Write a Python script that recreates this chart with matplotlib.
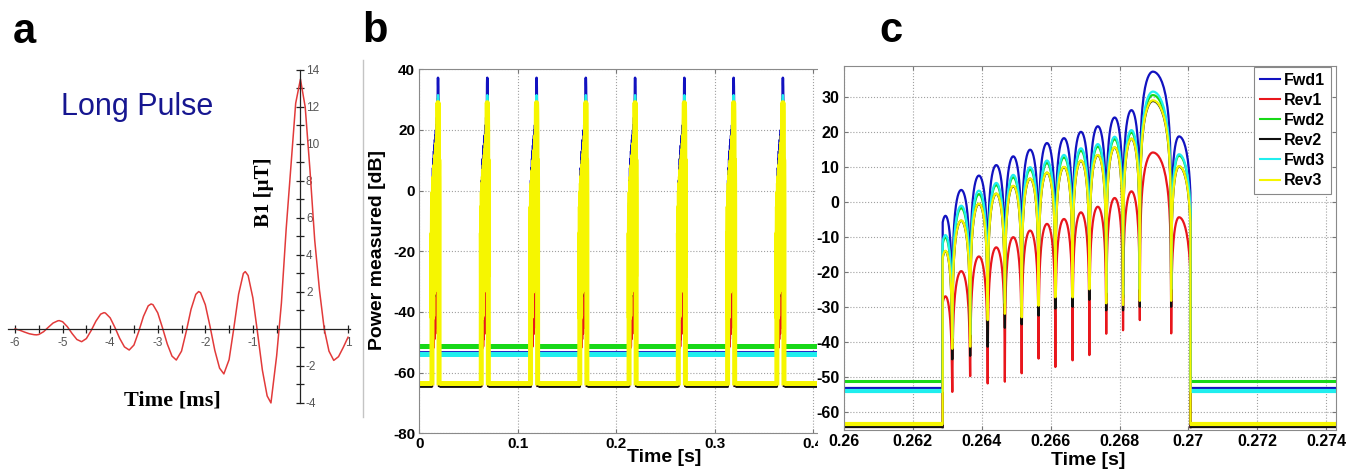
import numpy as np
import matplotlib
matplotlib.use("Agg")
import matplotlib.pyplot as plt
from matplotlib.lines import Line2D
from matplotlib.patches import Rectangle
from matplotlib.ticker import FixedLocator

# ---------------- Panel a data ----------------
a_time_ms = [-6.0, -5.9, -5.8, -5.7, -5.6, -5.55, -5.5, -5.4, -5.3, -5.2, -5.1, -5.07, -5.0,
             -4.9, -4.8, -4.7, -4.6, -4.5, -4.4, -4.3, -4.2, -4.13, -4.1, -4.0, -3.9, -3.8,
             -3.7, -3.6, -3.5, -3.4, -3.3, -3.2, -3.14, -3.1, -3.0, -2.9, -2.8, -2.7, -2.61,
             -2.5, -2.4, -2.3, -2.2, -2.14, -2.1, -2.0, -1.9, -1.8, -1.7, -1.61, -1.5, -1.4,
             -1.3, -1.2, -1.16, -1.1, -1.0, -0.9, -0.8, -0.7, -0.62, -0.5, -0.4, -0.3, -0.2,
             -0.1, 0.0, 0.1, 0.2, 0.3, 0.4, 0.5, 0.6, 0.7, 0.8, 0.9, 1.0]
a_b1_uT = [0.0, -0.07, -0.17, -0.26, -0.31, -0.32, -0.30, -0.15, 0.09, 0.32, 0.44, 0.45, 0.39,
           0.12, -0.25, -0.57, -0.69, -0.52, -0.09, 0.42, 0.80, 0.88, 0.86, 0.60, 0.08, -0.51,
           -0.97, -1.14, -0.87, -0.14, 0.68, 1.25, 1.35, 1.31, 0.87, 0.06, -0.81, -1.47, -1.68,
           -1.20, -0.13, 1.06, 1.87, 2.02, 1.96, 1.31, 0.13, -1.16, -2.12, -2.43, -1.66, 0.05,
           1.88, 3.00, 3.10, 2.89, 1.68, -0.24, -2.23, -3.62, -4.00, -1.45, 1.40, 5.40, 8.80,
           12.20, 13.50, 12.00, 8.60, 4.80, 2.10, 0.00, -1.20, -1.70, -1.50, -1.00, -0.45]
a_xtick_vals = [-6, -5, -4, -3, -2, -1, 1]
a_xtick_labels = ['-6', '-5', '-4', '-3', '-2', '-1', '1']
a_xminor_vals = [-5.5, -4.5, -3.5, -2.5, -1.5, -0.5, 0.5]
a_ytick_vals = [-4, -2, 2, 4, 6, 8, 10, 12, 14]
a_ytick_labels = ['-4', '-2', '2', '4', '6', '8', '10', '12', '14']
a_yminor_vals = [-3, -1, 1, 3, 5, 7, 9, 11, 13]

# ---------------- Panels b / c data ----------------
series_names = ['Fwd1', 'Rev1', 'Fwd2', 'Rev2', 'Fwd3', 'Rev3']
pulse_start_s = 0.262865
pulse_end_s = 0.27006
lobe_edge_s = [0.262746, 0.263144, 0.263663, 0.264171, 0.264670, 0.265158, 0.265649,
               0.266137, 0.266636, 0.267124, 0.267614, 0.268102, 0.268589, 0.269498, 0.270094]
lobe_peak_s = [0.262945, 0.263404, 0.263917, 0.264421, 0.264914, 0.265404, 0.265893,
               0.266387, 0.266880, 0.267369, 0.267858, 0.268346, 0.268968, 0.269727]
# arch shape of a lobe: drop (dB) below the lobe peak vs. fraction of the half-width
lobe_profile_u = [0.0, 0.1, 0.2, 0.3, 0.4, 0.5, 0.6, 0.7, 0.8, 0.85, 0.9, 0.94, 0.97, 0.99, 1.0]
lobe_profile_db = [0.0, -0.11, -0.44, -1.0, -1.84, -3.01, -4.61, -6.86, -10.2, -12.6, -16.1,
                   -20.5, -26.5, -36.1, -80.0]

fwd1_peak_db = [-4.0, 3.4, 7.5, 10.5, 13.0, 14.9, 16.8, 18.2, 20.0, 21.6, 24.1, 26.2, 37.2, 18.7]
rev1_peak_db = [-27.0, -19.8, -15.6, -13.0, -10.1, -8.2, -6.3, -4.9, -3.0, -1.4, 1.1, 3.0, 14.1, -4.4]
fwd2_peak_db = [-10.2, -1.8, 2.2, 4.8, 7.0, 9.2, 11.1, 12.7, 14.6, 15.8, 17.9, 19.8, 30.5, 13.2]
rev2_peak_db = [-14.1, -5.4, -0.6, 2.3, 4.5, 6.6, 8.3, 9.9, 11.7, 13.3, 15.5, 18.0, 28.8, 10.1]
fwd3_peak_db = [-9.5, -1.1, 3.2, 5.4, 7.7, 9.9, 11.8, 13.4, 15.3, 16.5, 18.6, 20.5, 31.5, 13.6]
rev3_peak_db = [-14.0, -5.3, -0.5, 2.4, 4.6, 6.7, 8.4, 10.0, 11.8, 13.4, 15.6, 18.1, 29.0, 10.2]

fwd1_dip_db = [-37, -36, -29, -27, -28, -25, -22, -22, -20, -24, -24, -23, -23]
rev1_dip_db = [-54.3, -49.8, -51.9, -51.4, -49.0, -44.8, -47.2, -45.3, -43.8, -37.7, -36.7, -33.8, -37.6]
fwd2_dip_db = [-40, -39, -32, -30, -31, -28, -25, -25, -23, -27, -27.5, -26, -26]
rev2_dip_db = [-45, -44, -41.4, -36, -35, -32.5, -30.5, -30, -28, -31, -31, -30, -30]
fwd3_dip_db = [-39, -38, -31, -29, -30, -27, -24, -24, -22, -26, -26.5, -25, -25]
rev3_dip_db = [-42, -41.4, -33.8, -32, -33, -29.7, -27.3, -27.3, -25, -29, -29.5, -28.3, -28.3]

start_db = [-37, -57, -44, -50, -43, -47]
baseline_db = [-53.3, -64.3, -51.3, -64.4, -54.0, -63.4]

b_pulse_start_s = [0.012865, 0.062865, 0.112865, 0.162865, 0.212865, 0.262865, 0.312865, 0.362865]
b_xticks = [0, 0.1, 0.2, 0.3, 0.4]
b_xticklabels = ['0', '0.1', '0.2', '0.3', '0.4']
b_yticks = [-80, -60, -40, -20, 0, 20, 40]
c_xticks = [0.26, 0.262, 0.264, 0.266, 0.268, 0.27, 0.272, 0.274]
c_xticklabels = ['0.26', '0.262', '0.264', '0.266', '0.268', '0.27', '0.272', '0.274']
c_yticks = [-60, -50, -40, -30, -20, -10, 0, 10, 20, 30]

peaks_all = [fwd1_peak_db, rev1_peak_db, fwd2_peak_db, rev2_peak_db, fwd3_peak_db, rev3_peak_db]
dips_all = [fwd1_dip_db, rev1_dip_db, fwd2_dip_db, rev2_dip_db, fwd3_dip_db, rev3_dip_db]

# ---------------- styles ----------------
colors = ['#1212c0', '#e8161c', '#18d818', '#101010', '#20eeee', '#f6f600']
c_base_lw = [1.6, 1.5, 2.2, 1.6, 3.0, 3.0]
b_base_lw = [1.3, 1.0, 3.6, 2.0, 3.6, 3.6]
b_pulse_lw = [1.8, 1.8, 1.6, 1.6, 1.6, 3.6]

W, H = 1359, 474
plt.rcParams['font.family'] = ['Liberation Sans', 'DejaVu Sans']
fig = plt.figure(figsize=(W / 100, H / 100), dpi=100)


def fx(px):
    return px / W


def fy(py):
    return 1 - py / H


def pulse_curve(peaks, dips, start_val):
    ts = [pulse_start_s]
    vs = [start_val]
    n = len(lobe_peak_s)
    pu = np.array(lobe_profile_u)
    pdb = np.array(lobe_profile_db)
    for i in range(n):
        tl, tp, tr = lobe_edge_s[i], lobe_peak_s[i], lobe_edge_s[i + 1]
        dl = dips[i - 1] if i > 0 else -99.0
        dr = dips[i] if i < n - 1 else -99.0
        tt_l = tp - pu[::-1] * (tp - tl)
        vv_l = np.maximum(peaks[i] + pdb[::-1], dl)
        tt_r = tp + pu[1:] * (tr - tp)
        vv_r = np.maximum(peaks[i] + pdb[1:], dr)
        ts.extend(tt_l.tolist() + tt_r.tolist())
        vs.extend(vv_l.tolist() + vv_r.tolist())
    ts = np.array(ts)
    vs = np.array(vs)
    keep = (ts >= pulse_start_s) & (ts <= pulse_end_s)
    return ts[keep], vs[keep]


# ================= Panel a =================
ax_a = fig.add_axes([0, fy(412), fx(355), (412 - 62) / H])
ax_a.set_xlim(-6.316, 1.147)
ax_a.set_ylim(-4.49, 14.43)
ax_a.plot(a_time_ms, a_b1_uT, color='#e23a3a', lw=1.1, solid_joinstyle='round')
for s in ['top', 'left']:
    ax_a.spines[s].set_visible(False)
ax_a.spines['bottom'].set_position(('data', 0))
ax_a.spines['right'].set_position(('data', 0))
ax_a.spines['bottom'].set_bounds(-6.15, 1.05)
ax_a.spines['right'].set_bounds(-4, 14)
for s in ['bottom', 'right']:
    ax_a.spines[s].set_color('#222222')
    ax_a.spines[s].set_linewidth(0.9)
ax_a.yaxis.tick_right()
ax_a.xaxis.set_major_locator(FixedLocator(a_xtick_vals))
ax_a.xaxis.set_minor_locator(FixedLocator(a_xminor_vals))
ax_a.set_xticklabels(a_xtick_labels)
ax_a.yaxis.set_major_locator(FixedLocator(a_ytick_vals))
ax_a.yaxis.set_minor_locator(FixedLocator(a_yminor_vals))
ax_a.set_yticklabels(a_ytick_labels)
ax_a.tick_params(which='both', direction='inout', length=6, width=0.9, color='#222222',
                 labelsize=8.5, labelcolor='#555555')
ax_a.tick_params(axis='x', pad=3)
ax_a.tick_params(axis='y', pad=1)
ax_a.patch.set_alpha(0)

fig.text(fx(13), fy(43), 'a', fontsize=30, fontweight='bold', ha='left', va='baseline')
fig.text(fx(61), fy(115), 'Long Pulse', fontsize=22, color='#161690', ha='left', va='baseline')
fig.text(fx(264), fy(192), 'B1 [\u03bcT]', rotation=90, fontsize=15, fontweight='bold',
         family='Liberation Serif', ha='center', va='center')
fig.text(fx(124), fy(405), 'Time [ms]', fontsize=16, fontweight='bold',
         family='Liberation Serif', ha='left', va='baseline')

# ================= Panel b =================
b_xmax = 0.4036
ax_b = fig.add_axes([fx(419.3), fy(433.3), 397.7 / W, 364 / H])
ax_b.set_xlim(0, b_xmax)
ax_b.set_ylim(-80, 40)
pt_c = []
for k in range(6):
    pt, pv = pulse_curve(peaks_all[k], dips_all[k], start_db[k])
    pt_c.append((pt, pv))

for k in range(6):
    base = baseline_db[k]
    bt, bv = [], []
    edges = [0.0]
    for s0 in b_pulse_start_s:
        edges += [s0, s0 + (pulse_end_s - pulse_start_s)]
    edges.append(b_xmax)
    for j in range(0, len(edges), 2):
        bt += [edges[j], edges[j + 1], np.nan]
        bv += [base, base, np.nan]
    ax_b.plot(bt, bv, color=colors[k], lw=b_base_lw[k], solid_capstyle='butt')
    tt, vv = [], []
    pt, pv = pt_c[k]
    for s0 in b_pulse_start_s:
        shift = s0 - pulse_start_s
        tt += [pulse_start_s + shift] + (pt + shift).tolist() + [pulse_end_s + shift, np.nan]
        vv += [base] + pv.tolist() + [base, np.nan]
    ax_b.plot(tt, vv, color=colors[k], lw=b_pulse_lw[k])

ax_b.set_xticks(b_xticks)
ax_b.set_xticklabels(b_xticklabels, fontweight='bold', fontsize=11)
ax_b.set_yticks(b_yticks)
ax_b.set_yticklabels([str(v) for v in b_yticks], fontweight='bold', fontsize=11)
ax_b.grid(True, linestyle=':', color='#a0a0a0', linewidth=0.8)
ax_b.spines['right'].set_visible(False)
for s in ['top', 'left', 'bottom']:
    ax_b.spines[s].set_color('#8a8a8a')
    ax_b.spines[s].set_linewidth(0.8)
ax_b.tick_params(direction='in', length=3, color='#777777', top=True, pad=3)
ax_b.set_zorder(1)

fig.text(fx(375), fy(42), 'b', fontsize=30, fontweight='bold', ha='center', va='baseline')
fig.text(fx(377), fy(250), 'Power measured [dB]', rotation=90, fontsize=14, fontweight='bold',
         ha='center', va='center')
fig.text(fx(664), fy(462), 'Time [s]', fontsize=14, fontweight='bold', ha='center', va='baseline')
fig.add_artist(Line2D([fx(363), fx(363)], [fy(60), fy(417)], color='#c4c4c4', lw=1))

# ================= Panel c =================
ax_c = fig.add_axes([fx(843.5), fy(430), 492.5 / W, 364 / H])
c_xmin, c_xmax = 0.259985, 0.274285
ax_c.set_xlim(c_xmin, c_xmax)
ax_c.set_ylim(-65.2, 38.8)
handles = []
for k in range(6):
    base = baseline_db[k]
    ax_c.plot([c_xmin, pulse_start_s, np.nan, pulse_end_s, c_xmax],
              [base, base, np.nan, base, base], color=colors[k], lw=c_base_lw[k],
              solid_capstyle='butt')
    pt, pv = pt_c[k]
    ax_c.plot([pulse_start_s] + pt.tolist() + [pulse_end_s],
              [base] + pv.tolist() + [base], color=colors[k], lw=1.6)
    handles.append(Line2D([], [], color=colors[k], lw=1.5))

ax_c.set_xticks(c_xticks)
ax_c.set_xticklabels(c_xticklabels, fontweight='bold', fontsize=11.5)
ax_c.set_yticks(c_yticks)
ax_c.set_yticklabels([str(v) for v in c_yticks], fontweight='bold', fontsize=11.5)
ax_c.grid(True, linestyle=':', color='#a0a0a0', linewidth=0.8)
for s in ['top', 'left', 'bottom', 'right']:
    ax_c.spines[s].set_color('#8a8a8a')
    ax_c.spines[s].set_linewidth(0.8)
ax_c.tick_params(direction='in', length=3, color='#777777', top=True, right=True, pad=3)
ax_c.set_zorder(2)
ax_c.add_artist(Rectangle((fx(818), 0), fx(842) - fx(818), 1, transform=fig.transFigure,
                          facecolor='white', edgecolor='none', zorder=0.5, clip_on=False))

leg = ax_c.legend(handles, series_names, loc='upper right',
                  bbox_to_anchor=(fx(1331), fy(67)), bbox_transform=fig.transFigure,
                  prop={'weight': 'bold', 'size': 11.5}, frameon=True, fancybox=False,
                  edgecolor='#888888', framealpha=1, borderpad=0.35, labelspacing=0.32,
                  handlelength=1.3, handletextpad=0.25, borderaxespad=0)
leg.get_frame().set_linewidth(0.8)

fig.text(fx(891), fy(42), 'c', fontsize=30, fontweight='bold', ha='center', va='baseline')
fig.text(fx(1088), fy(465), 'Time [s]', fontsize=14, fontweight='bold', ha='center', va='baseline')

fig.savefig('out.png', dpi=100)
